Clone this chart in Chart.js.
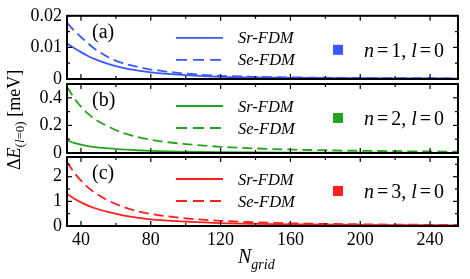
<!DOCTYPE html>
<html lang="en">
<head>
<meta charset="UTF-8" />
<title>Delta E versus N grid</title>
<script src="https://cdn.jsdelivr.net/npm/chart.js"></script>
<style>
  body { margin: 0; background: #fff; }
  .wrap { position: relative; width: 470px; height: 279px; }
  canvas { position: absolute; left: 0; top: 0; }
</style>
</head>
<body>
<div class="wrap">
  <canvas id="panelA" width="470" height="279"></canvas>
  <canvas id="panelB" width="470" height="279"></canvas>
  <canvas id="panelC" width="470" height="279"></canvas>
</div>
<script>
// === Data ===
const nGrid = [32, 36, 40, 44, 48, 56, 64, 72, 80, 90, 100, 120, 140, 160, 180, 200, 220, 240, 256];

const srN1 = [0.0113, 0.0098, 0.0085, 0.0073, 0.0063, 0.0047, 0.0035, 0.0027, 0.0021, 0.0016, 0.0012, 0.0007, 0.0005, 0.00037, 0.0003, 0.00024, 0.0002, 0.00017, 0.00015];
const seN1 = [0.0178, 0.0154, 0.0133, 0.0113, 0.0095, 0.0068, 0.0050, 0.0039, 0.0030, 0.0023, 0.0017, 0.0010, 0.0007, 0.00052, 0.0004, 0.00032, 0.00027, 0.00023, 0.0002];

const srN2 = [0.091, 0.074, 0.060, 0.050, 0.043, 0.034, 0.026, 0.020, 0.015, 0.011, 0.009, 0.006, 0.004, 0.003, 0.0025, 0.002, 0.0017, 0.0015, 0.0013];
const seN2 = [0.48, 0.40, 0.336, 0.285, 0.245, 0.19, 0.146, 0.118, 0.096, 0.078, 0.065, 0.045, 0.033, 0.025, 0.020, 0.016, 0.013, 0.011, 0.010];

const srN3 = [1.30, 1.12, 0.96, 0.83, 0.72, 0.56, 0.43, 0.34, 0.27, 0.22, 0.18, 0.12, 0.088, 0.067, 0.053, 0.043, 0.036, 0.031, 0.027];
const seN3 = [2.60, 2.18, 1.84, 1.57, 1.35, 1.02, 0.78, 0.61, 0.49, 0.39, 0.31, 0.21, 0.15, 0.11, 0.085, 0.068, 0.056, 0.047, 0.042];

const xTicks = [40, 80, 120, 160, 200, 240];
const xMinor = [60, 100, 140, 180, 220];

const yTicksA = [0, 0.01, 0.02];
const yLabelsA = ['0', '0.01', '0.02'];
const yMinorA = [0.005, 0.015];

const yTicksB = [0, 0.2, 0.4];
const yLabelsB = ['0', '0.2', '0.4'];
const yMinorB = [0.1, 0.3];

const yTicksC = [0, 1, 2];
const yLabelsC = ['0', '1', '2'];
const yMinorC = [0.5, 1.5, 2.5];

const serif = '"Liberation Serif", "DejaVu Serif", serif';

function seg(ctx, x1, y1, x2, y2) {
  ctx.beginPath();
  ctx.moveTo(x1, y1);
  ctx.lineTo(x2, y2);
  ctx.stroke();
}

// draw a row of text pieces, some italic / subscript
function drawParts(ctx, parts, x, y, size) {
  parts.forEach(p => {
    ctx.font = (p.it ? 'italic ' : '') + (p.size || size) + 'px ' + serif;
    ctx.fillText(p.t, x, y + (p.dy || 0));
    x += ctx.measureText(p.t).width + (p.gap || 0);
  });
  return x;
}

// frame, inward ticks, in-panel legend and labels
const panelPlugin = {
  id: 'panel',
  afterDraw(chart, args, o) {
    const ctx = chart.ctx, a = chart.chartArea;
    const xs = chart.scales.x, ys = chart.scales.y;
    ctx.save();
    ctx.strokeStyle = '#000';
    ctx.lineWidth = 1.2;
    xTicks.forEach(v => {
      const p = xs.getPixelForValue(v);
      seg(ctx, p, a.bottom, p, a.bottom - 5);
      seg(ctx, p, a.top, p, a.top + 5);
    });
    xMinor.forEach(v => {
      const p = xs.getPixelForValue(v);
      seg(ctx, p, a.bottom, p, a.bottom - 3);
      seg(ctx, p, a.top, p, a.top + 3);
    });
    o.yMajor.forEach(v => {
      const p = ys.getPixelForValue(v);
      seg(ctx, a.left, p, a.left + 5, p);
      seg(ctx, a.right, p, a.right - 5, p);
    });
    o.yMinor.forEach(v => {
      const p = ys.getPixelForValue(v);
      seg(ctx, a.left, p, a.left + 3, p);
      seg(ctx, a.right, p, a.right - 3, p);
    });
    ctx.lineWidth = 2;
    ctx.strokeRect(a.left, a.top, a.right - a.left, a.bottom - a.top);

    // legend samples
    const ds = chart.data.datasets;
    ctx.lineWidth = 1.8;
    ctx.strokeStyle = o.color;
    ctx.setLineDash([]);
    seg(ctx, 176, a.top + 22, 223, a.top + 22);
    ctx.setLineDash([11, 6]);
    seg(ctx, 176, a.top + 44, 223, a.top + 44);
    ctx.setLineDash([]);
    ctx.fillStyle = '#000';
    drawParts(ctx, [{ t: ds[0].label, it: true }], 238, a.top + 27.5, 16.5);
    drawParts(ctx, [{ t: ds[1].label, it: true }], 238, a.top + 49.5, 16.5);

    ctx.fillStyle = o.color;
    ctx.fillRect(333, a.top + 29, 10, 10);
    ctx.fillStyle = '#000';
    drawParts(ctx, [
      { t: 'n', it: true, gap: 3 }, { t: '=', gap: 3 }, { t: o.n + ', ' },
      { t: 'l', it: true, gap: 3 }, { t: '=', gap: 3 }, { t: '0' }
    ], 364, a.top + 41, 20);
    drawParts(ctx, [{ t: o.tag }], 92, a.top + 22, 20);

    if (o.titles) {
      drawParts(ctx, [{ t: 'N', it: true }, { t: 'grid', it: true, size: 14, dy: 6 }], 238, 263, 20);
      ctx.translate(20, 170);
      ctx.rotate(-Math.PI / 2);
      drawParts(ctx, [
        { t: '\u0394' }, { t: 'E', it: true },
        { t: '(', size: 13, dy: 4 }, { t: 'l', it: true, size: 13, dy: 4 }, { t: '=0)', size: 13, dy: 4 },
        { t: ' [meV]' }
      ], 0, 0, 18);
    }
    ctx.restore();
  }
};

function makePanel(id, top, bottom, sr, se, color, yMax, yTicks, yLabels, yMinor, tag, n, showX) {
  new Chart(document.getElementById(id), {
    type: 'line',
    data: {
      labels: nGrid,
      datasets: [
        { label: 'Sr-FDM', data: sr, borderColor: color, borderWidth: 1.8, pointRadius: 0,
          cubicInterpolationMode: 'monotone', fill: false },
        { label: 'Se-FDM', data: se, borderColor: color, borderWidth: 1.8, pointRadius: 0,
          borderDash: [10, 5], cubicInterpolationMode: 'monotone', fill: false }
      ]
    },
    options: {
      responsive: false,
      animation: false,
      devicePixelRatio: 1,
      layout: { padding: { top: top, right: 470 - 458, bottom: 0, left: 0 } },
      scales: {
        x: {
          type: 'linear', min: 32, max: 256,
          grid: { display: false, drawTicks: false },
          border: { display: false },
          afterBuildTicks: s => { s.ticks = xTicks.map(v => ({ value: v })); },
          afterFit: s => { s.height = 279 - bottom; },
          ticks: {
            display: showX, padding: 3, color: '#000',
            font: { family: serif, size: 18 },
            callback: v => String(v)
          }
        },
        y: {
          min: 0, max: yMax,
          grid: { display: false, drawTicks: false },
          border: { display: false },
          afterBuildTicks: s => { s.ticks = yTicks.map(v => ({ value: v })); },
          afterFit: s => { s.width = 67; },
          ticks: {
            padding: 5, color: '#000',
            font: { family: serif, size: 18 },
            callback: v => yLabels[yTicks.indexOf(v)]
          }
        }
      },
      plugins: {
        legend: { display: false },
        tooltip: { enabled: false },
        panel: { color: color, yMajor: yTicks, yMinor: yMinor, tag: tag, n: n, titles: showX }
      }
    },
    plugins: [panelPlugin]
  });
}

makePanel('panelA', 13, 79, srN1, seN1, '#3a58ff', 0.02, yTicksA, yLabelsA, yMinorA, '(a)', '1', false);
makePanel('panelB', 84, 153, srN2, seN2, '#26a31c', 0.5, yTicksB, yLabelsB, yMinorB, '(b)', '2', false);
makePanel('panelC', 157, 226, srN3, seN3, '#ff1f1f', 2.8, yTicksC, yLabelsC, yMinorC, '(c)', '3', true);
</script>
</body>
</html>
